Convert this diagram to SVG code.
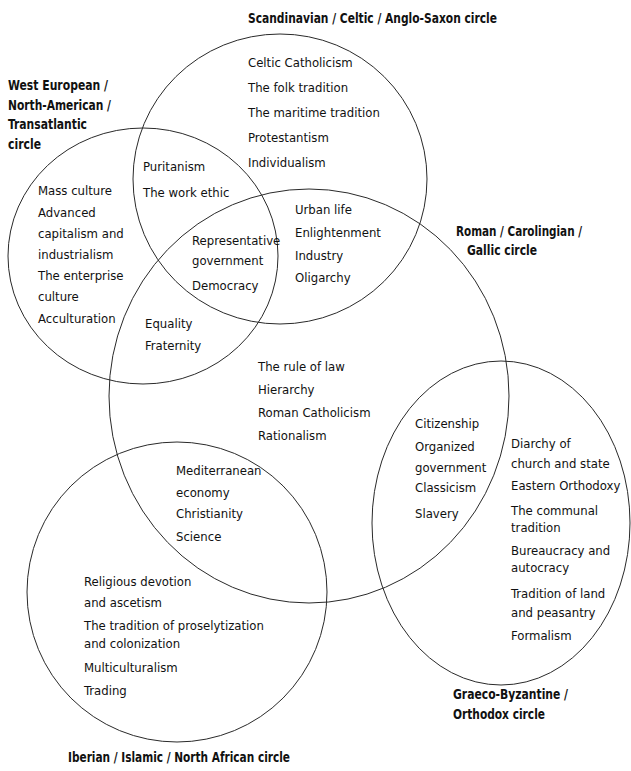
<svg xmlns="http://www.w3.org/2000/svg" width="631" height="771" viewBox="0 0 631 771">
<style>
.c{fill:none;stroke:#2a2a2a;stroke-width:1}
.t{font-family:"DejaVu Sans Condensed","Liberation Sans Narrow","Liberation Sans",sans-serif;font-stretch:condensed;font-size:13px;fill:#111}
.b{font-family:"DejaVu Sans Condensed","Liberation Sans Narrow","Liberation Sans",sans-serif;font-stretch:condensed;font-size:13.5px;font-weight:bold;fill:#111}
</style>
<rect width="631" height="771" fill="#fff"/>
<g id="scandinavian">
<ellipse class="c" cx="280" cy="179" rx="147" ry="145"/>
<text class="b" x="248" y="23" textLength="249" lengthAdjust="spacingAndGlyphs">Scandinavian / Celtic / Anglo-Saxon circle</text>
<text class="t" x="248" y="67">Celtic Catholicism</text>
<text class="t" x="248" y="92">The folk tradition</text>
<text class="t" x="248" y="117">The maritime tradition</text>
<text class="t" x="248" y="142">Protestantism</text>
<text class="t" x="248" y="167">Individualism</text>
</g>
<g id="west-european">
<ellipse class="c" cx="143" cy="256" rx="135" ry="128"/>
<text class="b" x="8" y="90" textLength="100" lengthAdjust="spacingAndGlyphs">West European /</text>
<text class="b" x="8" y="110" textLength="103" lengthAdjust="spacingAndGlyphs">North-American /</text>
<text class="b" x="8" y="129" textLength="79" lengthAdjust="spacingAndGlyphs">Transatlantic</text>
<text class="b" x="8" y="149" textLength="33" lengthAdjust="spacingAndGlyphs">circle</text>
<text class="t" x="38" y="195">Mass culture</text>
<text class="t" x="38" y="217">Advanced</text>
<text class="t" x="38" y="238">capitalism and</text>
<text class="t" x="38" y="259">industrialism</text>
<text class="t" x="38" y="280">The enterprise</text>
<text class="t" x="38" y="301">culture</text>
<text class="t" x="38" y="323">Acculturation</text>
</g>
<g id="roman">
<ellipse class="c" cx="309" cy="396" rx="200" ry="207"/>
<text class="b" x="456" y="236" textLength="126" lengthAdjust="spacingAndGlyphs">Roman / Carolingian /</text>
<text class="b" x="467" y="255" textLength="70" lengthAdjust="spacingAndGlyphs">Gallic circle</text>
<text class="t" x="258" y="371">The rule of law</text>
<text class="t" x="258" y="394">Hierarchy</text>
<text class="t" x="258" y="417">Roman Catholicism</text>
<text class="t" x="258" y="440">Rationalism</text>
</g>
<g id="graeco-byzantine">
<ellipse class="c" cx="501" cy="523" rx="129" ry="162"/>
<text class="b" x="453" y="699" textLength="115" lengthAdjust="spacingAndGlyphs">Graeco-Byzantine /</text>
<text class="b" x="453" y="719" textLength="92" lengthAdjust="spacingAndGlyphs">Orthodox circle</text>
<text class="t" x="511" y="448">Diarchy of</text>
<text class="t" x="511" y="468">church and state</text>
<text class="t" x="511" y="490">Eastern Orthodoxy</text>
<text class="t" x="511" y="515">The communal</text>
<text class="t" x="511" y="532">tradition</text>
<text class="t" x="511" y="555">Bureaucracy and</text>
<text class="t" x="511" y="572">autocracy</text>
<text class="t" x="511" y="598">Tradition of land</text>
<text class="t" x="511" y="617">and peasantry</text>
<text class="t" x="511" y="640">Formalism</text>
</g>
<g id="iberian">
<circle class="c" cx="177" cy="592" r="150"/>
<text class="b" x="68" y="762" textLength="222" lengthAdjust="spacingAndGlyphs">Iberian / Islamic / North African circle</text>
<text class="t" x="84" y="586">Religious devotion</text>
<text class="t" x="84" y="607">and ascetism</text>
<text class="t" x="84" y="630">The tradition of proselytization</text>
<text class="t" x="84" y="648">and colonization</text>
<text class="t" x="84" y="672">Multiculturalism</text>
<text class="t" x="84" y="695">Trading</text>
</g>
<g id="overlap-we-scand">
<text class="t" x="143" y="171">Puritanism</text>
<text class="t" x="143" y="197">The work ethic</text>
</g>
<g id="overlap-we-scand-roman">
<text class="t" x="192" y="245">Representative</text>
<text class="t" x="192" y="265">government</text>
<text class="t" x="192" y="290">Democracy</text>
</g>
<g id="overlap-scand-roman">
<text class="t" x="295" y="214">Urban life</text>
<text class="t" x="295" y="237">Enlightenment</text>
<text class="t" x="295" y="260">Industry</text>
<text class="t" x="295" y="282">Oligarchy</text>
</g>
<g id="overlap-we-roman">
<text class="t" x="145" y="328">Equality</text>
<text class="t" x="145" y="350">Fraternity</text>
</g>
<g id="overlap-roman-iberian">
<text class="t" x="176" y="475">Mediterranean</text>
<text class="t" x="176" y="497">economy</text>
<text class="t" x="176" y="518">Christianity</text>
<text class="t" x="176" y="541">Science</text>
</g>
<g id="overlap-roman-graeco">
<text class="t" x="415" y="428">Citizenship</text>
<text class="t" x="415" y="451">Organized</text>
<text class="t" x="415" y="472">government</text>
<text class="t" x="415" y="492">Classicism</text>
<text class="t" x="415" y="518">Slavery</text>
</g>
<g id="connectors"/>
</svg>
